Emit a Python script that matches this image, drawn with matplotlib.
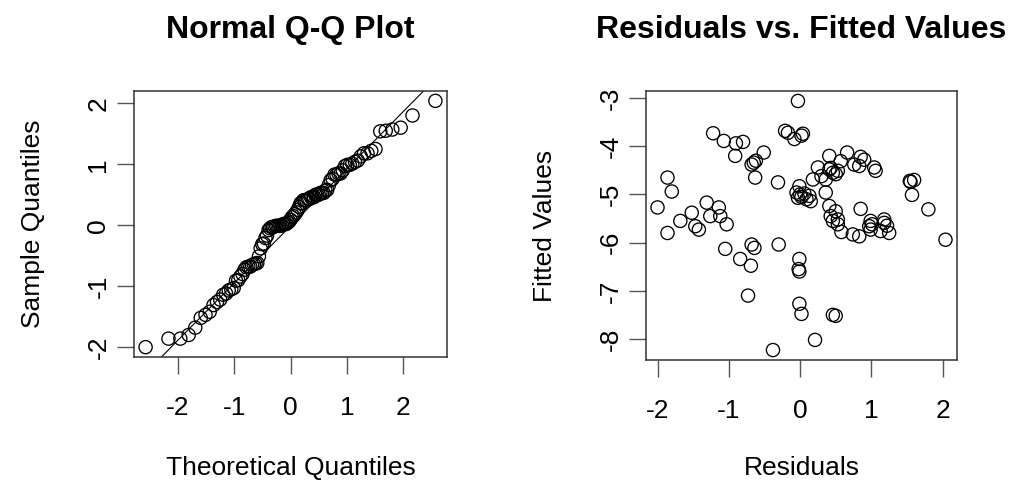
import numpy as np
import matplotlib
matplotlib.use("Agg")
import matplotlib.pyplot as plt
from statistics import NormalDist

# residuals and fitted values (same residuals feed the Q-Q plot)
residuals = [
    -2.00, -1.86, -1.80, -1.86, -1.68, -1.52, -1.47, -1.42, -1.31, -1.14,
    -1.26, -1.12, -1.03, -1.22, -1.07, -0.90, -0.80, -0.91, -0.51, -0.68,
    -0.65, -0.62, -0.63, -0.31, -0.21, -1.05, -0.84, -0.68, -0.64, -0.69,
    -0.30, -0.73, -0.38,
    -0.17, -0.03, 0.02, 0.04, -0.08, -0.01, -0.05, 0.00, 0.02, 0.06,
    0.13, 0.09, 0.15, -0.03, 0.18,
    -0.01, -0.02, -0.01, -0.01, 0.02, 0.21,
    0.25, 0.36, 0.41, 0.41, 0.46, 0.53, 0.57, 0.66, 0.76, 0.90,
    1.04, 1.06, 0.83,
    0.36, 0.41, 0.50, 0.43, 0.53, 0.85, 0.46, 0.53, 0.58, 0.74,
    0.83, 0.97, 1.01, 1.13, 1.18, 1.25, 0.99, 1.18,
    1.54, 1.57, 1.80, 2.04, 0.46, 0.50,
    1.60, 1.22, 0.99, 0.43, 0.50, 0.85, 0.30, 1.55,
]
fitted = [
    -5.27, -4.65, -4.94, -5.80, -5.55, -5.38, -5.66, -5.73, -5.17, -5.27,
    -5.45, -5.45, -5.62, -3.73, -3.89, -3.94, -3.91, -4.20, -4.13, -4.38,
    -4.34, -4.30, -4.65, -4.75, -3.68, -6.13, -6.34, -6.04, -6.11, -6.48,
    -6.04, -7.10, -8.23,
    -3.72, -3.06, -3.78, -3.74, -3.85, -4.83, -4.96, -5.00, -5.05, -4.98,
    -5.03, -5.10, -5.14, -5.07, -4.69,
    -6.34, -6.55, -6.60, -7.27, -7.48, -8.02,
    -4.44, -4.69, -4.20, -4.48, -4.55, -4.51, -4.31, -4.13, -4.38, -4.28,
    -4.44, -4.51, -4.41,
    -4.96, -5.24, -5.35, -5.45, -5.52, -5.30, -5.55, -5.62, -5.78, -5.83,
    -5.87, -5.66, -5.62, -5.76, -5.59, -5.80, -5.55, -5.52,
    -4.72, -5.01, -5.31, -5.94, -7.50, -7.52,
    -4.70, -5.65, -5.73, -4.45, -4.58, -4.22, -4.62, -4.74,
]

x_ticks = [-2, -1, 0, 1, 2]
qq_yticks = [-2, -1, 0, 1, 2]
fit_yticks = [-3, -4, -5, -6, -7, -8]

plt.rcParams['font.family'] = ['Liberation Sans', 'DejaVu Sans']
plt.rcParams['axes.unicode_minus'] = False

res = np.array(residuals)
fit = np.array(fitted)
n = len(res)
nd = NormalDist()
# theoretical quantiles like R's qqnorm (ppoints)
a = 3 / 8 if n <= 10 else 0.5
theo = np.array([nd.inv_cdf((i - a) / (n + 1 - 2 * a)) for i in range(1, n + 1)])
sample = np.sort(res)
# qqline through the quartiles
yq = np.percentile(res, [25, 75])
xq = np.array([nd.inv_cdf(0.25), nd.inv_cdf(0.75)])
slope = (yq[1] - yq[0]) / (xq[1] - xq[0])
intercept = yq[0] - slope * xq[0]


def r_lim(v):
    lo, hi = v.min(), v.max()
    d = (hi - lo) * 0.04
    return lo - d, hi + d


def style_axes(ax):
    for s in ax.spines.values():
        s.set_linewidth(1.1)
        s.set_color('#333333')
    ax.tick_params(length=12, width=1.0, color='#555555', labelsize=19)
    ax.tick_params(axis='x', pad=16)
    ax.tick_params(axis='y', pad=5)
    for lab in ax.get_yticklabels():
        lab.set_rotation(90)
        lab.set_va('center')


fig = plt.figure(figsize=(10.14, 4.86), dpi=100)
ax1 = fig.add_axes([134 / 1014, 1 - 357 / 486, 313 / 1014, 266 / 486])
ax2 = fig.add_axes([646 / 1014, 1 - 360 / 486, 311 / 1014, 269 / 486])

ax1.scatter(theo, sample, s=90, facecolors='none', edgecolors='black', linewidths=0.95)
xl = r_lim(theo)
ax1.set_xlim(xl)
ax1.set_ylim(r_lim(sample))
xs = np.array(xl)
ax1.plot(xs, intercept + slope * xs, color='black', linewidth=0.8)
ax1.set_xticks(x_ticks)
ax1.set_yticks(qq_yticks)
style_axes(ax1)
ax1.set_xlabel('Theoretical Quantiles', fontsize=19, va='center')
ax1.xaxis.set_label_coords(0.5, -0.417)
ax1.set_ylabel('Sample Quantiles', fontsize=19, va='center')
ax1.yaxis.set_label_coords(-0.323, 0.5)
ax1.text(0.5, 1.229, 'Normal Q-Q Plot', transform=ax1.transAxes,
         ha='center', va='center', fontsize=23, fontweight='bold')

ax2.scatter(res, fit, s=90, facecolors='none', edgecolors='black', linewidths=0.95)
ax2.set_xlim(r_lim(res))
ax2.set_ylim(r_lim(fit))
ax2.set_xticks(x_ticks)
ax2.set_yticks(fit_yticks)
style_axes(ax2)
ax2.set_xlabel('Residuals', fontsize=19, va='center')
ax2.xaxis.set_label_coords(0.5, -0.40)
ax2.set_ylabel('Fitted Values', fontsize=19, va='center')
ax2.yaxis.set_label_coords(-0.325, 0.5)
ax2.text(0.5, 1.227, 'Residuals vs. Fitted Values', transform=ax2.transAxes,
         ha='center', va='center', fontsize=23, fontweight='bold')

fig.savefig('out.png', dpi=100)
